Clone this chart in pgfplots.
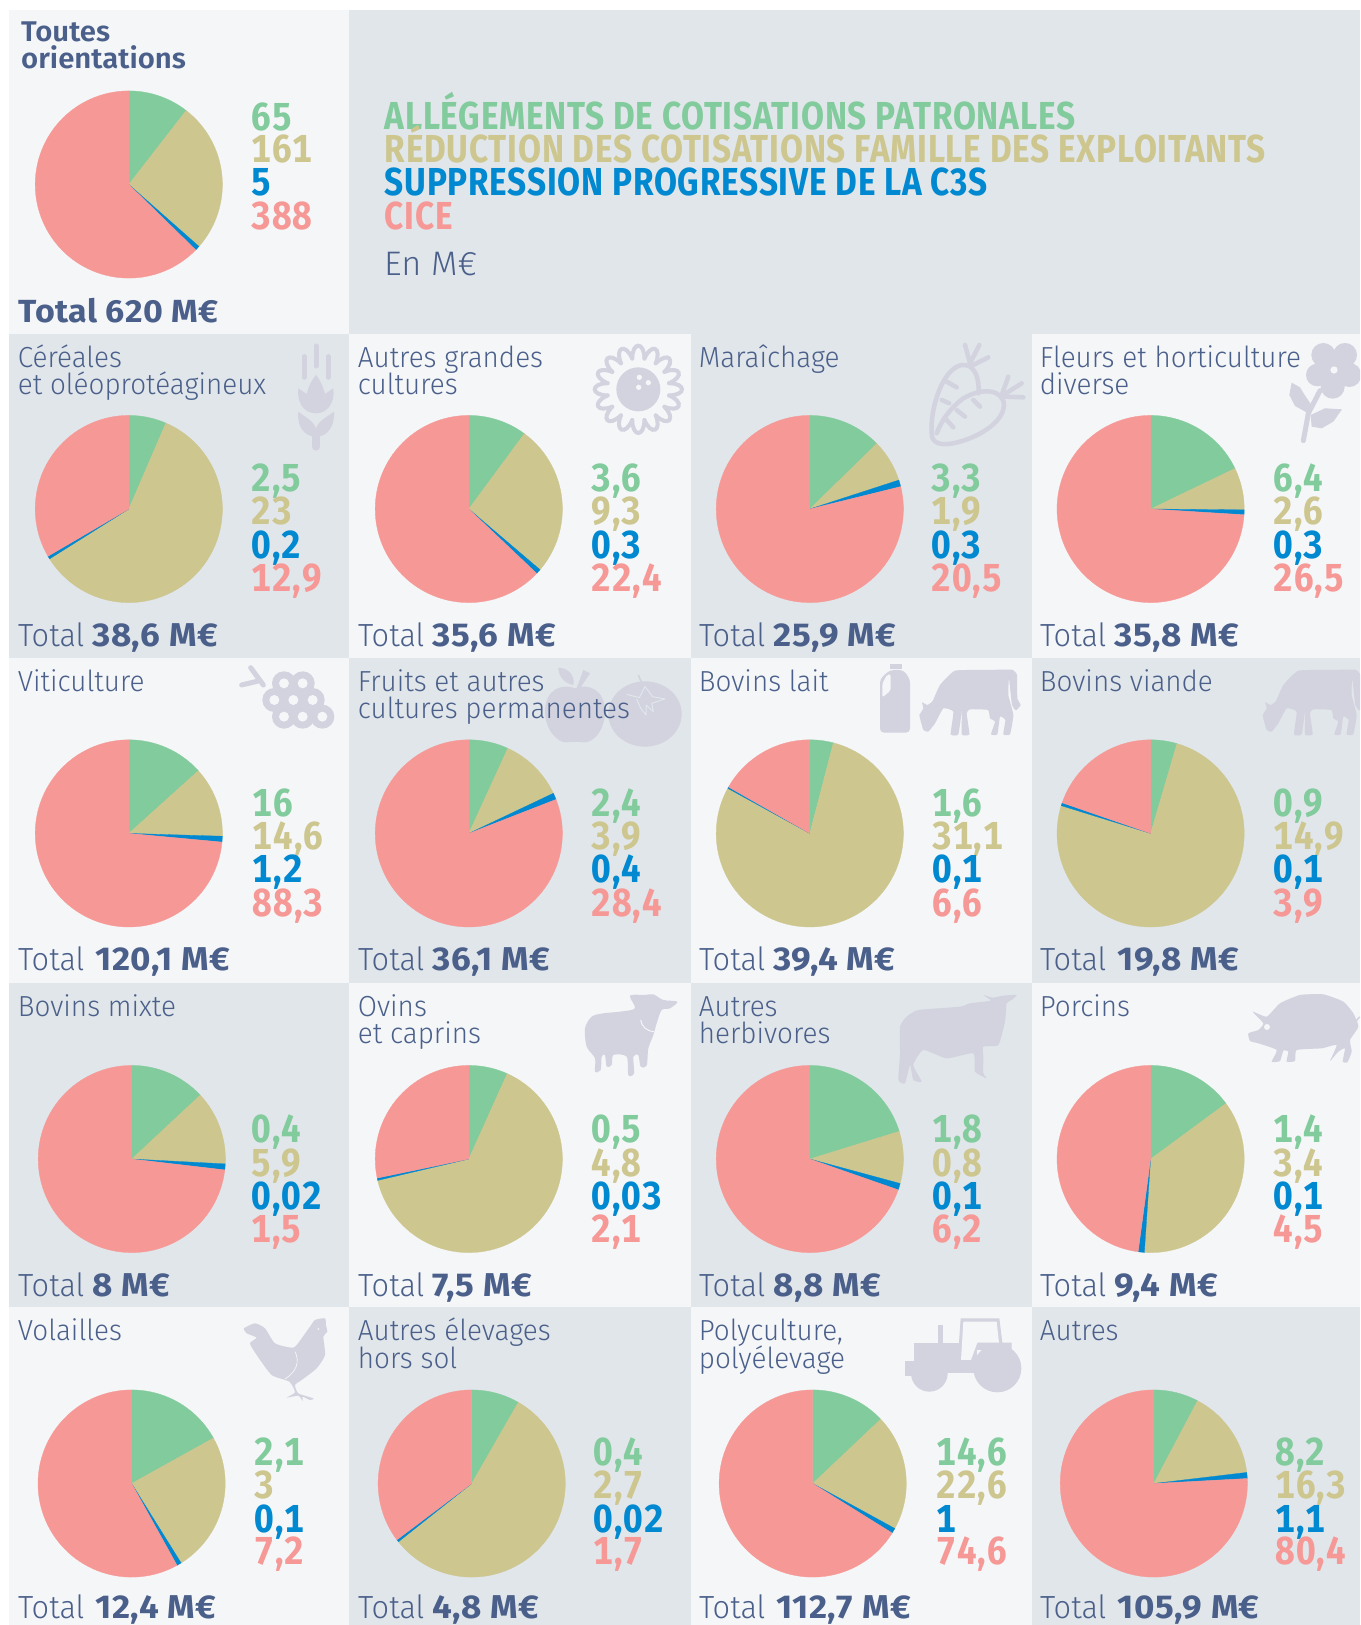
\documentclass[border=0pt]{standalone}
\usepackage{fontspec}
\usepackage{pgfplots}
\pgfplotsset{compat=1.18}
\setmainfont{Fira Sans}[UprightFont=* Light,BoldFont=* SemiBold,FakeStretch=0.96]
\newfontfamily\numf{Fira Sans}[UprightFont=* Bold,FakeStretch=0.90,LetterSpace=3,Numbers=Monospaced]
\newfontfamily\headf{Fira Sans}[UprightFont=* Bold,FakeStretch=0.855,LetterSpace=2]
\newfontfamily\totf{Fira Sans}[UprightFont=* Bold,FakeStretch=1.06,LetterSpace=1.5]
\newfontfamily\titf{Fira Sans}[UprightFont=* SemiBold,FakeStretch=1.03]
\newfontfamily\enf{Fira Sans}[UprightFont=* Light,FakeStretch=1.01]
\definecolor{cG}{HTML}{82CB9C}
\definecolor{cK}{HTML}{CDC68F}
\definecolor{cB}{HTML}{0088D0}
\definecolor{cS}{HTML}{F69895}
\definecolor{pL}{HTML}{F4F6F8}
\definecolor{pD}{HTML}{E1E6EA}
\definecolor{tx}{HTML}{4A5F8A}
\definecolor{ic}{HTML}{D2D3DF}
% one slice of a pie: cx, cy, start angle, end angle, colour
\newcommand{\slice}[5]{%
  \xdef\coords{(#1,#2)}%
  \pgfmathtruncatemacro\nn{max(1,ceil((#4-(#3))/3))}%
  \foreach \i in {0,...,\nn}{%
    \pgfmathsetmacro\th{#3+\i/\nn*(#4-(#3))}%
    \pgfmathsetmacro\xx{#1+93.6*sin(\th)}%
    \pgfmathsetmacro\yy{#2-93.6*cos(\th)}%
    \xdef\coords{\coords (\xx,\yy)}%
  }%
  \xdef\coords{\coords (#1,#2)}%
  \edef\tmp{\noexpand\addplot[fill=#5,draw=#5,line width=0.3pt,mark=none] coordinates {\coords};}%
  \tmp
}
% a pie: cx, cy, then the four values
\newcommand{\pie}[6]{%
  \pgfmathsetmacro\tot{#3+#4+#5+#6}%
  \pgfmathsetmacro\aA{(#3)/\tot*360}%
  \pgfmathsetmacro\aB{(#3+#4)/\tot*360}%
  \pgfmathsetmacro\aC{(#3+#4+#5)/\tot*360}%
  \slice{#1}{#2}{0}{\aA}{cG}%
  \slice{#1}{#2}{\aA}{\aB}{cK}%
  \slice{#1}{#2}{\aB}{\aC}{cB}%
  \slice{#1}{#2}{\aC}{360}{cS}%
}
\newcommand{\nm}[4]{\node[anchor=base west,inner sep=0pt,text=#3] at (#1,#2) {\numf\fontsize{39}{39}\selectfont #4};}
\newcommand{\nums}[9]{\nm{#1}{#2}{cG}{#6}\nm{#1}{#3}{cK}{#7}\nm{#1}{#4}{cB}{#8}\nm{#1}{#5}{cS}{#9}}
\newcommand{\cat}[3]{\node[anchor=base west,inner sep=0pt,text=tx] at (#1-1,#2) {\fontsize{29}{29}\selectfont #3};}
\newcommand{\total}[4]{% x y dx value
  \node[anchor=base west,inner sep=0pt,text=tx] at (#1-0.7,#2+0.7) {\fontsize{32}{32}\selectfont Total};
  \node[anchor=base west,inner sep=0pt,text=tx] at (#1+#3,#2+0.7) {\totf\fontsize{33}{33}\selectfont #4 M€};}
\newcommand{\panel}[5]{\fill[#5] (#1,#2) rectangle (#3,#4);}
\newenvironment{zc}[2]{\begin{scope}[x=0.33333pt,y=-0.33333pt,xshift=#1pt,yshift={1625pt-#2pt}]}{\end{scope}}
\newcommand{\cow}{%
  \fill[ic] plot[smooth,tension=0.25] coordinates {(178,180)(190,160)(186,142)(202,150)(218,138)(240,90)(285,47)(380,45)(455,44)(471,60)(472,130)(482,150)(468,166)(456,150)(447,70)(445,120)(460,180)(450,238)(430,238)(436,195)(420,185)(412,238)(393,238)(405,200)(390,190)(384,165)(330,163)(320,175)(328,238)(305,238)(306,165)(295,238)(272,238)(280,170)(250,160)(225,205)(205,230)(190,225)(180,190)(178,180)};
}
\begin{document}
\begin{tikzpicture}
\path[use as bounding box] (0,0) rectangle (1360pt,1625pt);
\clip (0,0) rectangle (1360pt,1625pt);
\begin{scope}[x=1pt,y=-1pt,yshift=1625pt]
\fill[white] (0,0) rectangle (1360,1625);
\panel{9}{10}{349}{334}{pL}
\panel{349}{10}{1360}{334}{pD}
\panel{9}{334}{349}{658}{pD}
\panel{349}{334}{690.5}{658}{pL}
\panel{690.5}{334}{1032}{658}{pD}
\panel{1032}{334}{1360}{658}{pL}
\panel{9}{658}{349}{983}{pL}
\panel{349}{658}{690.5}{983}{pD}
\panel{690.5}{658}{1032}{983}{pL}
\panel{1032}{658}{1360}{983}{pD}
\panel{9}{983}{349}{1307}{pD}
\panel{349}{983}{690.5}{1307}{pL}
\panel{690.5}{983}{1032}{1307}{pD}
\panel{1032}{983}{1360}{1307}{pL}
\panel{9}{1307}{349}{1625}{pL}
\panel{349}{1307}{690.5}{1625}{pD}
\panel{690.5}{1307}{1032}{1625}{pL}
\panel{1032}{1307}{1360}{1625}{pD}
\end{scope}
% icons
\begin{zc}{280}{330}
  \draw[ic,line width=5pt,line cap=round] (108,48)--(108,108) (72,80)--(72,142) (145,80)--(145,142);
  \fill[ic] (55,175)--(80,192) .. controls (85,170) and (95,150) .. (108,135) .. controls (120,150) and (130,170) .. (135,192)--(160,175) .. controls (165,215) and (145,250) .. (108,250) .. controls (70,250) and (50,215) .. (55,175)--cycle;
  \fill[ic] (55,245) .. controls (75,262) and (98,270) .. (108,295) .. controls (118,270) and (140,262) .. (162,245) .. controls (165,285) and (145,320) .. (108,320) .. controls (70,320) and (50,285) .. (55,245)--cycle;
  \draw[ic,line width=8pt,line cap=round] (108,315)--(108,350);
  \fill[ic] (1075,178) circle[radius=66];
  \fill[pL] (1078,142) circle[radius=8] (1105,158) circle[radius=8] (1076,172) circle[radius=8];
  \begin{scope}[shift={(1075,178)}]
  \foreach \a in {0,22.5,...,337.5}{
    \pgfmathsetmacro\aa{\a-11.25}\pgfmathsetmacro\ab{\a+11.25}\pgfmathsetmacro\ca{\a-7}\pgfmathsetmacro\cb{\a+7}
    \draw[ic,line width=4pt,line cap=round] (\aa:94) .. controls (\ca:145) and (\cb:145) .. (\ab:94);
  }
  \end{scope}
\end{zc}
\begin{zc}{920}{330}
  \draw[ic,line width=4.5pt,line cap=round,line join=round]
    (175,190) .. controls (180,140) and (160,100) .. (125,105) .. controls (70,115) and (30,230) .. (35,310) .. controls (35,345) and (70,345) .. (100,340) .. controls (170,325) and (250,280) .. (252,225) .. controls (250,180) and (190,170) .. (130,205) .. controls (90,235) and (65,270) .. (50,310);
  \draw[ic,line width=4.5pt,line cap=round] (150,100)--(135,45) (150,100)--(178,45) (160,105)--(205,82)
    (245,195)--(265,140) (250,195)--(305,160) (255,200)--(310,202)
    (80,155)--(110,172) (65,210)--(88,220) (160,210)--(180,230) (110,240)--(135,260) (80,270)--(100,292);
  \fill[ic] (1210,75) circle[radius=36] (1275,75) circle[radius=36] (1288,135) circle[radius=36] (1238,170) circle[radius=36] (1192,135) circle[radius=34] (1242,115) circle[radius=30];
  \fill[pL] (1242,120) circle[radius=11];
  \draw[ic,line width=5pt,line cap=round] (1200,182)--(1165,250)--(1150,332);
  \fill[ic] (1115,158)--(1140,172)--(1152,192)--(1172,222)--(1165,250)--(1125,228)--(1108,195)--cycle;
  \fill[ic] (1172,255)--(1215,235)--(1266,238)--(1240,275)--(1205,295)--(1175,290)--cycle;
\end{zc}
\begin{zc}{230}{655}
  \draw[ic,line width=5pt,line cap=round] (62,38)--(100,90) (35,90)--(85,78);
  \foreach \p in {(162,85),(218,85),(133,135),(190,135),(248,135),(162,185),(218,185),(277,185)}{\fill[ic] \p circle[radius=36];}
  \foreach \p in {(162,85),(218,85),(133,135),(190,135),(248,135),(162,185),(218,185),(277,185)}{\fill[pL] \p circle[radius=15];}
  % apple
  \fill[ic] (1035,100) .. controls (1000,85) and (945,100) .. (945,170) .. controls (945,225) and (985,265) .. (1010,262) .. controls (1020,260) and (1050,260) .. (1060,262) .. controls (1090,265) and (1125,225) .. (1125,170) .. controls (1125,100) and (1070,85) .. (1035,100);
  \fill[ic] (985,38) .. controls (1020,40) and (1035,65) .. (1030,90) .. controls (1000,85) and (985,60) .. (985,38);
  \fill[ic] (1040,100)--(1060,45)--(1080,55)--(1050,100)--cycle;
  % tomato
  \fill[ic] (1245,177) ellipse[x radius=110,y radius=98];
  \draw[ic,line width=1.5pt] (1225,60)--(1240,95);
  \draw[pD,line width=1pt,line join=round] (1190,118)--(1228,128)--(1245,95)--(1268,125)--(1305,132)--(1265,145)--(1270,170)--(1248,150)--(1248,180)--(1232,160)--(1220,132);
\end{zc}
\begin{zc}{860}{655}
  \fill[ic] (90,27) rectangle (126,42);
  \fill[ic,rounded corners=4pt] (90,45)--(130,45)--(150,72)--(150,233)--(60,233)--(60,72)--cycle;
  \fill[pL,rounded corners=2pt] (82,58)--(67,85)--(67,127)--(92,107)--(92,58)--cycle;
  \cow
  \begin{scope}[xshift=343.3pt]\cow\end{scope}
\end{zc}
\begin{zc}{570}{985}
  % sheep
  \fill[ic] plot[smooth cycle,tension=0.5] coordinates {(45,130)(65,95)(100,85)(150,80)(195,70)(180,32)(225,30)(250,28)(280,45)(322,50)(300,70)(275,75)(260,115)(250,150)(235,190)(230,242)(212,245)(205,210)(190,215)(192,265)(175,270)(170,215)(130,210)(125,240)(110,245)(105,210)(95,215)(92,255)(75,260)(75,220)(50,185)};
  \draw[pL,line width=1pt] (212,105) .. controls (215,125) and (230,138) .. (252,140);
  % cattle
  \fill[ic] plot[smooth cycle,tension=0.3] coordinates {(990,125)(1010,95)(1045,75)(1170,65)(1200,55)(1262,47)(1240,30)(1268,38)(1300,32)(1340,30)(1325,45)(1310,55)(1305,110)(1285,180)(1240,185)(1240,215)(1240,265)(1250,280)(1215,260)(1210,205)(1130,220)(1060,195)(1030,240)(1055,290)(1030,285)(1020,240)(1005,295)(985,285)(990,210)};
\end{zc}
\begin{zc}{1230}{985}
  \fill[ic] plot[smooth cycle,tension=0.3] coordinates {(55,145)(85,135)(100,115)(68,80)(110,95)(150,55)(210,30)(280,28)(340,50)(370,85)(385,125)(360,165)(365,200)(352,232)(338,230)(345,190)(325,200)(300,228)(320,180)(275,190)(200,195)(195,228)(170,230)(175,200)(160,197)(150,228)(125,230)(140,195)(85,175)(60,168)};
  \fill[pL] (111,126) circle[radius=9];
  \draw[ic,line width=1.5pt] (376,120) .. controls (380,95) and (395,90) .. (395,105);
\end{zc}
\begin{zc}{230}{1305}
  \fill[ic] plot[smooth cycle,tension=0.35] coordinates {(42,70)(75,55)(105,70)(135,115)(190,128)(215,100)(240,65)(255,45)(285,40)(288,62)(292,80)(280,95)(285,150)(260,190)(215,225)(195,240)(205,265)(250,280)(240,285)(218,275)(218,288)(205,272)(170,278)(195,262)(178,230)(125,210)(80,150)(60,115)(80,98)(50,85)};
  \fill[pL] (265,72) circle[radius=3];
  \draw[pL,line width=0.7pt] (195,140) .. controls (210,170) and (200,200) .. (165,222);
\end{zc}
\begin{zc}{890}{1305}
  \fill[ic] (72,113) rectangle (262,205);
  \fill[ic] (45,168) rectangle (72,212);
  \fill[ic] (143,60) rectangle (160,113);
  \fill[ic] (207,113)--(212,40)--(328,40)--(337,113)--(365,113)--(365,135)--(262,135)--cycle;
  \fill[ic] (118,205) circle[radius=55];
  \fill[ic] (322,190) circle[radius=72];
  \fill[ic] (65,205) rectangle (172,215);
  \fill[pL] (220,50)--(320,50)--(327,113)--(262,113)--(243,165)--(213,165)--cycle;
\end{zc}
% pies
\begin{axis}[at={(0,0)},anchor=south west,width=1360pt,height=1625pt,scale only axis,
  xmin=0,xmax=1360,ymin=0,ymax=1625,y dir=reverse,hide axis,clip=false]
\pie{128.8}{184.5}{65}{161}{5}{388}
\pie{128.8}{509}{2.5}{23}{0.2}{12.9}
\pie{468.8}{509}{3.6}{9.3}{0.3}{22.4}
\pie{809.8}{509}{3.3}{1.9}{0.3}{20.5}
\pie{1150.6}{509}{6.4}{2.6}{0.3}{26.5}
\pie{128.8}{833.4}{16}{14.6}{1.2}{88.3}
\pie{468.8}{833.4}{2.4}{3.9}{0.4}{28.4}
\pie{809.8}{833.4}{1.6}{31.1}{0.1}{6.6}
\pie{1150.6}{833.4}{0.9}{14.9}{0.1}{3.9}
\pie{131.8}{1159}{1.02}{1.0}{0.08}{5.72}
\pie{468.8}{1159}{0.5}{4.8}{0.03}{2.1}
\pie{809.8}{1159}{1.8}{0.8}{0.1}{6.2}
\pie{1150.6}{1159}{1.4}{3.4}{0.1}{4.5}
\pie{131.6}{1483.5}{2.1}{3}{0.1}{7.2}
\pie{471.7}{1483.5}{0.4}{2.7}{0.02}{1.7}
\pie{812.7}{1483.5}{14.6}{22.6}{1}{74.6}
\pie{1153.8}{1483.5}{8.2}{16.3}{1.1}{80.4}
\end{axis}
\begin{scope}[x=1pt,y=-1pt,yshift=1625pt]
% legend
\node[anchor=base west,inner sep=0pt,text=cG] at (384.5,130) {\headf\fontsize{39}{39}\selectfont ALLÉGEMENTS DE COTISATIONS PATRONALES};
\node[anchor=base west,inner sep=0pt,text=cK] at (384.5,163) {\headf\fontsize{39}{39}\selectfont RÉDUCTION DES COTISATIONS FAMILLE DES EXPLOITANTS};
\node[anchor=base west,inner sep=0pt,text=cB] at (384.5,196) {\headf\fontsize{39}{39}\selectfont SUPPRESSION PROGRESSIVE DE LA C3S};
\node[anchor=base west,inner sep=0pt,text=cS] at (384.5,230) {\headf\fontsize{39}{39}\selectfont CICE};
\node[anchor=base west,inner sep=0pt,text=tx] at (384,276) {\enf\fontsize{34}{34}\selectfont En M€};
% row 1
\node[anchor=base west,inner sep=0pt,text=tx] at (21,42) {\titf\fontsize{28.5}{28.5}\selectfont Toutes};
\node[anchor=base west,inner sep=0pt,text=tx] at (21,69) {\titf\fontsize{28.5}{28.5}\selectfont orientations};
\node[anchor=base west,inner sep=0pt,text=tx] at (18,322.5) {\totf\fontsize{32}{32}\selectfont Total 620 M€};
\nums{251}{130.5}{163}{196}{229.5}{65}{161}{5}{388}
% row 2
\cat{18.7}{367.7}{Céréales}\cat{18.7}{394.5}{et oléoprotéagineux}
\cat{358.7}{367.7}{Autres grandes}\cat{358.7}{394.5}{cultures}
\cat{699.7}{367.7}{Maraîchage}
\cat{1040.7}{367.7}{Fleurs et horticulture}\cat{1040.7}{394.5}{diverse}
\nums{251}{492}{525}{559}{592}{2,5}{23}{0,2}{12,9}
\nums{591}{492}{525}{559}{592}{3,6}{9,3}{0,3}{22,4}
\nums{931}{492}{525}{559}{592}{3,3}{1,9}{0,3}{20,5}
\nums{1273}{492}{525}{559}{592}{6,4}{2,6}{0,3}{26,5}
\total{18.7}{645.8}{73.6}{38,6}
\total{358.7}{645.8}{73.6}{35,6}
\total{699.7}{645.8}{73.6}{25,9}
\total{1040.7}{645.8}{73.6}{35,8}
% row 3
\cat{18.7}{691.5}{Viticulture}
\cat{358.7}{691.5}{Fruits et autres}\cat{358.7}{719}{cultures permanentes}
\cat{699.7}{691.5}{Bovins lait}
\cat{1040.7}{691.5}{Bovins viande}
\nums{252.5}{817}{849.5}{882.5}{916.5}{16}{14,6}{1,2}{88,3}
\nums{591}{817}{849.5}{882.5}{916.5}{2,4}{3,9}{0,4}{28,4}
\nums{932}{817}{849.5}{882.5}{916.5}{1,6}{31,1}{0,1}{6,6}
\nums{1273}{817}{849.5}{882.5}{916.5}{0,9}{14,9}{0,1}{3,9}
\total{18.7}{970}{76.7}{120,1}
\total{358.7}{970}{73.6}{36,1}
\total{699.7}{970}{73.6}{39,4}
\total{1040.7}{970}{76.7}{19,8}
% row 4
\cat{18.7}{1017}{Bovins mixte}
\cat{358.7}{1017}{Ovins}\cat{358.7}{1044}{et caprins}
\cat{699.7}{1017}{Autres}\cat{699.7}{1044}{herbivores}
\cat{1040.7}{1017}{Porcins}
\nums{251}{1143}{1176.5}{1210}{1243}{0,4}{5,9}{0,02}{1,5}
\nums{591}{1143}{1176.5}{1210}{1243}{0,5}{4,8}{0,03}{2,1}
\nums{932}{1143}{1176.5}{1210}{1243}{1,8}{0,8}{0,1}{6,2}
\nums{1273}{1143}{1176.5}{1210}{1243}{1,4}{3,4}{0,1}{4,5}
\total{18.7}{1296}{73.6}{8}
\total{358.7}{1296}{73.6}{7,5}
\total{699.7}{1296}{73.6}{8,8}
\total{1040.7}{1296}{73.6}{9,4}
% row 5
\cat{18.7}{1341}{Volailles}
\cat{358.7}{1341}{Autres élevages}\cat{358.7}{1368.5}{hors sol}
\cat{699.7}{1341}{Polyculture,}\cat{699.7}{1368.5}{polyélevage}
\cat{1040.7}{1341}{Autres}
\nums{254}{1466}{1499}{1533}{1565}{2,1}{3}{0,1}{7,2}
\nums{593}{1466}{1499}{1533}{1565}{0,4}{2,7}{0,02}{1,7}
\nums{936}{1466}{1499}{1533}{1565}{14,6}{22,6}{1}{74,6}
\nums{1275}{1466}{1499}{1533}{1565}{8,2}{16,3}{1,1}{80,4}
\total{18.7}{1618}{76.7}{12,4}
\total{358.7}{1618}{73.6}{4,8}
\total{699.7}{1618}{76.7}{112,7}
\total{1040.7}{1618}{76.7}{105,9}
\end{scope}
\end{tikzpicture}
\end{document}
